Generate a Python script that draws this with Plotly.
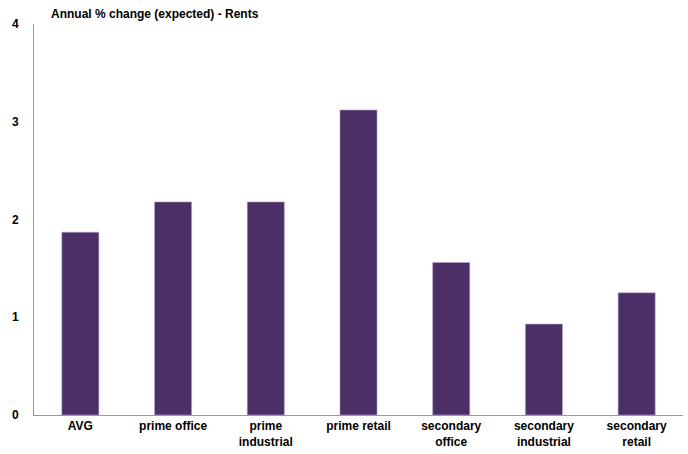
import plotly.graph_objects as go

categories = ["AVG", "prime office", "prime<br>industrial", "prime retail",
              "secondary<br>office", "secondary<br>industrial", "secondary<br>retail"]
values = [1.87, 2.18, 2.18, 3.12, 1.56, 0.93, 1.25]
y_ticks = [0, 1, 2, 3, 4]

font_family = "Liberation Sans, Arial, sans-serif"

fig = go.Figure(go.Bar(
    x=categories, y=values,
    marker=dict(color="#4B2F66", line=dict(color="#B9A6CC", width=0.6)),
    width=0.4,
))

fig.update_layout(
    width=688, height=454,
    margin=dict(l=34, r=5, t=24, b=39),
    paper_bgcolor="white", plot_bgcolor="white",
    showlegend=False,
    font=dict(family=font_family, size=12, color="black"),
    annotations=[dict(
        text="<b>Annual % change (expected) - Rents</b>",
        xref="paper", yref="paper", x=0.023, y=1.0, xanchor="left", yanchor="bottom",
        yshift=1, showarrow=False, font=dict(family=font_family, size=12, color="black"),
    )],
)
fig.update_xaxes(
    showline=True, linecolor="#999999", linewidth=1,
    ticks="", showgrid=False,
    tickfont=dict(family=font_family, size=12, color="black", weight="bold"),
)
fig.update_yaxes(
    range=[0, 4], tickvals=y_ticks, ticktext=[str(t) for t in y_ticks],
    showline=True, linecolor="#999999", linewidth=1,
    ticks="", showgrid=False, zeroline=False, ticklabelstandoff=12,
    tickfont=dict(family=font_family, size=12, color="black", weight="bold"),
)

fig.write_html("out.html")
